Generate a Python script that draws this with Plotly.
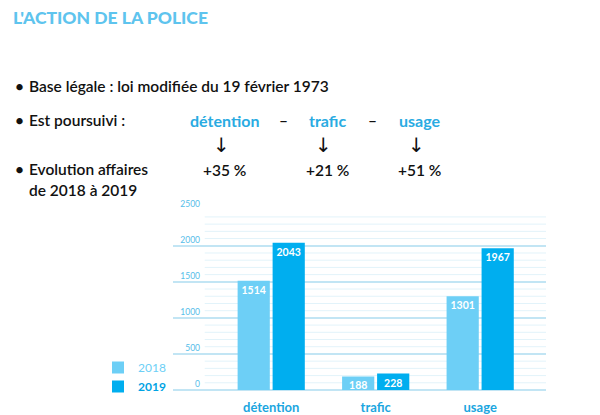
import plotly.graph_objects as go

categories = ['détention', 'trafic', 'usage']
years = ['2018', '2019']
values_2018 = [1514, 188, 1301]
values_2019 = [2043, 228, 1967]
y_ticks = [0, 500, 1000, 1500, 2000, 2500]

W, H = 600, 415
OFF = 8  # the page puts the figure 8px in from the top-left corner


def px(x):
    return (x - OFF) / W


def py(y):
    return 1 - (y - OFF) / H


light = '#6dcff6'
blue = '#00aeef'
text_blue = '#1ba6e0'
font = 'Lato'

fig = go.Figure()
fig.add_trace(go.Bar(
    x=categories, y=values_2018, name="<span style='color:#6dcff6'>2018</span>",
    marker=dict(color=light, line=dict(width=0)),
    text=values_2018, textposition='inside', insidetextanchor='end',
    constraintext='none', textangle=0,
    textfont=dict(color='white', size=10.5, family=font, weight='bold'),
))
fig.add_trace(go.Bar(
    x=categories, y=values_2019, name="<span style='color:#00a3e4'><b>2019</b></span>",
    marker=dict(color=blue, line=dict(width=0)),
    text=values_2019, textposition='inside', insidetextanchor='end',
    constraintext='none', textangle=0,
    textfont=dict(color='white', size=10.5, family=font, weight='bold'),
))

# minor grid lines (start a bit right of the major ones)
for v in range(100, 2500, 100):
    if v % 500:
        fig.add_shape(type='line', xref='x domain', yref='y', x0=0.085, x1=1,
                      y0=v, y1=v, line=dict(color='#e2f3fa', width=1), layer='below')

fig.update_layout(
    width=W, height=H,
    margin=dict(l=0, r=0, t=0, b=0, autoexpand=False),
    paper_bgcolor='white', plot_bgcolor='white',
    barmode='group', bargap=0.33, bargroupgap=0.08,
    showlegend=True,
    legend=dict(x=px(98), y=py(353), xanchor='left', yanchor='top',
                font=dict(family=font, size=12), tracegroupgap=0,
                itemwidth=30, bgcolor='rgba(0,0,0,0)'),
    xaxis=dict(domain=[px(173), px(546)], range=[-0.94, 2.63], automargin=False,
               showgrid=False, zeroline=False, showline=False,
               ticks='', ticklabelstandoff=8,
               tickfont=dict(family=font, size=13, color=text_blue, weight='bold')),
    yaxis=dict(domain=[py(390), py(209)], range=[0, 2510], automargin=False,
               anchor='free', position=px(200),
               tickvals=y_ticks, ticklabelposition='outside top',
               showgrid=True, gridcolor='#c2e5f4', gridwidth=2,
               zeroline=True, zerolinecolor='#c2e5f4', zerolinewidth=2,
               showline=False, ticks='',
               tickfont=dict(family=font, size=8.5, color='#55bde9')),
)

ann = []
ann.append(dict(x=px(11), y=py(17), text="L'ACTION DE LA POLICE", xanchor='left', yanchor='middle',
                font=dict(family=font, size=17.5, color='#5ec4ee', weight=900)))

body = dict(family=font, size=15.5, color='#111111', weight=600)
lines = [
    (86, 'Base légale : loi modifiée du 19 février 1973'),
    (120, 'Est poursuivi :'),
    (169, 'Evolution affaires'),
]
for y, t in lines:
    ann.append(dict(x=px(13), y=py(y), text='•', xanchor='left', yanchor='middle', font=body))
    ann.append(dict(x=px(27), y=py(y), text=t, xanchor='left', yanchor='middle', font=body))
ann.append(dict(x=px(27), y=py(190), text='de 2018 à 2019', xanchor='left', yanchor='middle', font=body))

head_x = [224, 327, 419]
for i, c in enumerate(categories):
    ann.append(dict(x=px(head_x[i]), y=py(120), text=c, xanchor='center', yanchor='middle',
                    font=dict(family=font, size=16, color='#29abe2', weight='bold')))
    ann.append(dict(x=px(head_x[i] - 3), y=py(145), text='↓', xanchor='center', yanchor='middle',
                    font=dict(family='DejaVu Sans', size=20, color='#111111')))
    pct = round((values_2019[i] / values_2018[i] - 1) * 100)
    ann.append(dict(x=px(head_x[i]), y=py(170), text=f'+{pct} %', xanchor='center', yanchor='middle',
                    font=body))
for x in [283, 373]:
    ann.append(dict(x=px(x), y=py(120), text='–', xanchor='center', yanchor='middle', font=body))

for a in ann:
    a.update(xref='paper', yref='paper', showarrow=False)
fig.update_layout(annotations=ann)

fig.write_html('out.html')
